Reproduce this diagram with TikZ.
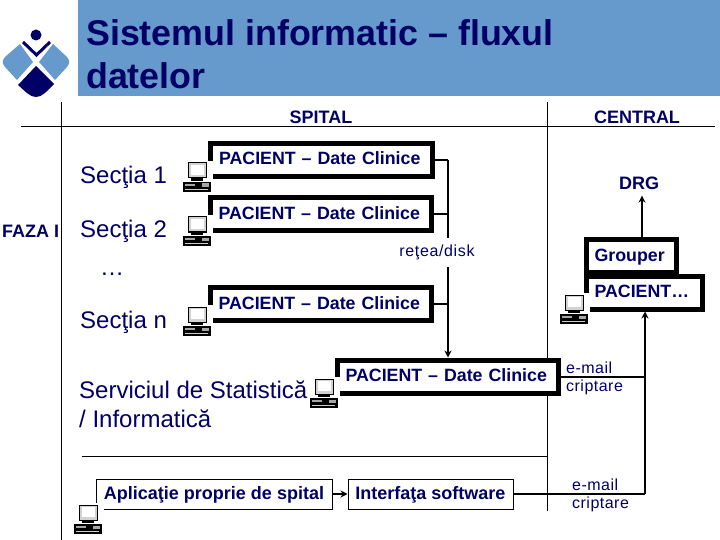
\documentclass[tikz,border=0pt]{standalone}
\usepackage{fontspec}
\setmainfont{Liberation Sans}
\usetikzlibrary{positioning, arrows.meta, calc}
\definecolor{navy}{RGB}{0,0,102}
\definecolor{band}{RGB}{102,153,204}

\begin{document}
\begin{tikzpicture}[
    x=1pt, y=-1pt,
    every node/.style={text=navy, inner sep=0pt},
    sect/.style={anchor=west, font=\fontsize{24}{26}\selectfont},
    head/.style={font=\bfseries\fontsize{18}{20}\selectfont},
    thick box/.style={draw=black, fill=white, line width=5pt, minimum height=33pt, text width=#1, align=left, font=\bfseries\fontsize{17.8}{20}\selectfont, text height=13pt, text depth=3pt},
    thin box/.style={draw=black, fill=white, line width=1pt, minimum height=30pt, font=\bfseries\fontsize{18}{20}\selectfont, text height=13pt, text depth=3pt},
    mail/.style={anchor=west, align=left, font=\addfontfeatures{LetterSpace=3}\fontsize{16}{18}\selectfont},
    link/.style={line width=2pt},
    arrow/.style={-{Stealth[length=7pt, width=7pt]}, line width=2pt},
    pc/.pic={
      \fill[white] (-2,-2) rectangle (30,30);
      \draw[black, fill=gray!35, line width=1pt] (5,0) rectangle (23,15);
      \fill[white] (7.5,2) rectangle (20.5,12);
      \fill[black] (8,15) rectangle (20,18);
      \fill[black] (0,19) rectangle (28,29);
      \fill[gray!70] (2,21) rectangle (12,23);
      \fill[gray!70] (19,20.5) rectangle (26,24);
      \fill[gray!40] (2,26) rectangle (25,27);
    }
  ]
  \useasboundingbox (0,0) rectangle (720,540);

  % title
  \fill[band] (78,0) rectangle (720,96);
  \node[anchor=west, font=\bfseries\fontsize{35.8}{43}\selectfont, align=left] (title) at (86,54) {Sistemul informatic – fluxul\\datelor};

  % logo
  \fill[navy] (36,35) circle (5.5);
  \draw[navy, line width=3pt] (23,42) -- (36.5,55) -- (50,42);
  \fill[band] (20,44) -- (33,62) -- (17,80) -- (5,67) .. controls (2,63) and (2,61) .. (5,57) -- cycle;
  \fill[band] (53,44) -- (39,62) -- (55,80) -- (67,67) .. controls (70,63) and (70,61) .. (67,57) -- cycle;
  \fill[navy] (36,66) -- (54,84) .. controls (46,92) and (42,97) .. (36,97) .. controls (30,97) and (26,92) .. (18,85) -- cycle;

  % grid
  \draw[black, line width=1pt] (61,102) -- (61,540);
  \draw[black, line width=1pt] (21,126.5) -- (715,126.5);
  \draw[black, line width=1pt] (547.5,102) -- (547.5,511);
  \draw[black, line width=1pt] (82,456.5) -- (547.5,456.5);

  \node[head] (spital) at (321,117) {SPITAL};
  \node[head] (central) at (637,117) {CENTRAL};
  \node[head, anchor=west] (faza) at (2,231) {FAZA I};
  \node[head] (drg) at (639,183) {DRG};

  % SPITAL (sectii)
  \node[sect] (s1) at (80,177) {Secţia 1};
  \node[sect] (s2) at (80,231) {Secţia 2};
  \node[sect] (sdots) at (100,274) {…};
  \node[sect] (sn) at (80,322) {Secţia n};
  \node[sect, align=left, font=\fontsize{24}{29}\selectfont] (stat) at (79,404) {Serviciul de Statistică\\/ Informatică};

  % connectors
  \coordinate (bus) at (448,160);
  \coordinate (up) at (645,494);
  \node[thick box=205pt, minimum width=222pt, inner xsep=8.5pt] (p1) at (321.5,160) {PACIENT – Date Clinice};
  \node[thick box=205pt, minimum width=221pt, inner xsep=8pt] (p2) at (321,214) {PACIENT – Date Clinice};
  \node[thick box=205pt, minimum width=221pt, inner xsep=8pt] (p3) at (321,304) {PACIENT – Date Clinice};
  \node[thick box=205pt, minimum width=221pt, inner xsep=8pt] (p4) at (448,376.5) {PACIENT – Date Clinice};
  \node[thick box=74pt, minimum width=90pt, inner xsep=8pt] (grouper) at (631.5,256) {Grouper};
  \node[thick box=100pt, minimum width=116pt, inner xsep=8pt] (pac) at (644.5,292.5) {PACIENT…};
  \node[thin box, minimum width=236pt] (app) at (214,494) {Aplicaţie proprie de spital};
  \node[thin box, minimum width=165pt] (soft) at (430.5,494) {Interfaţa software};

  \draw[link] (p1.east) -- (bus);
  \draw[link] (p2.east) -- (p2.east -| bus);
  \draw[link] (p3.east) -- (p3.east -| bus);
  \draw[arrow] (bus) -- (bus |- p4.north);
  \draw[arrow] (app) -- (soft);
  \draw[link] (soft) -- (up);
  \draw[link] (p4.east) -- (p4.east -| up);
  \draw[arrow] (up) -- (up |- pac.south);
  \coordinate (drgfoot) at (642,237);
  \draw[arrow, shorten >=6pt] (drgfoot) -- (drgfoot |- drg.south);
  \node[fill=white, minimum height=29pt, font=\addfontfeatures{LetterSpace=4}\fontsize{16}{18}\selectfont] (retea) at (437,252.5) {reţea/disk};

  \node[mail] (m1) at (566,378) {e-mail\\criptare};
  \node[mail] (m2) at (572,495.5) {e-mail\\criptare};

  % calculatoare
  \pic at (183,163) {pc};
  \pic at (183,217) {pc};
  \pic at (183,307) {pc};
  \pic at (310,379) {pc};
  \pic at (560,295) {pc};
  \pic at (74,505) {pc};
\end{tikzpicture}
\end{document}
